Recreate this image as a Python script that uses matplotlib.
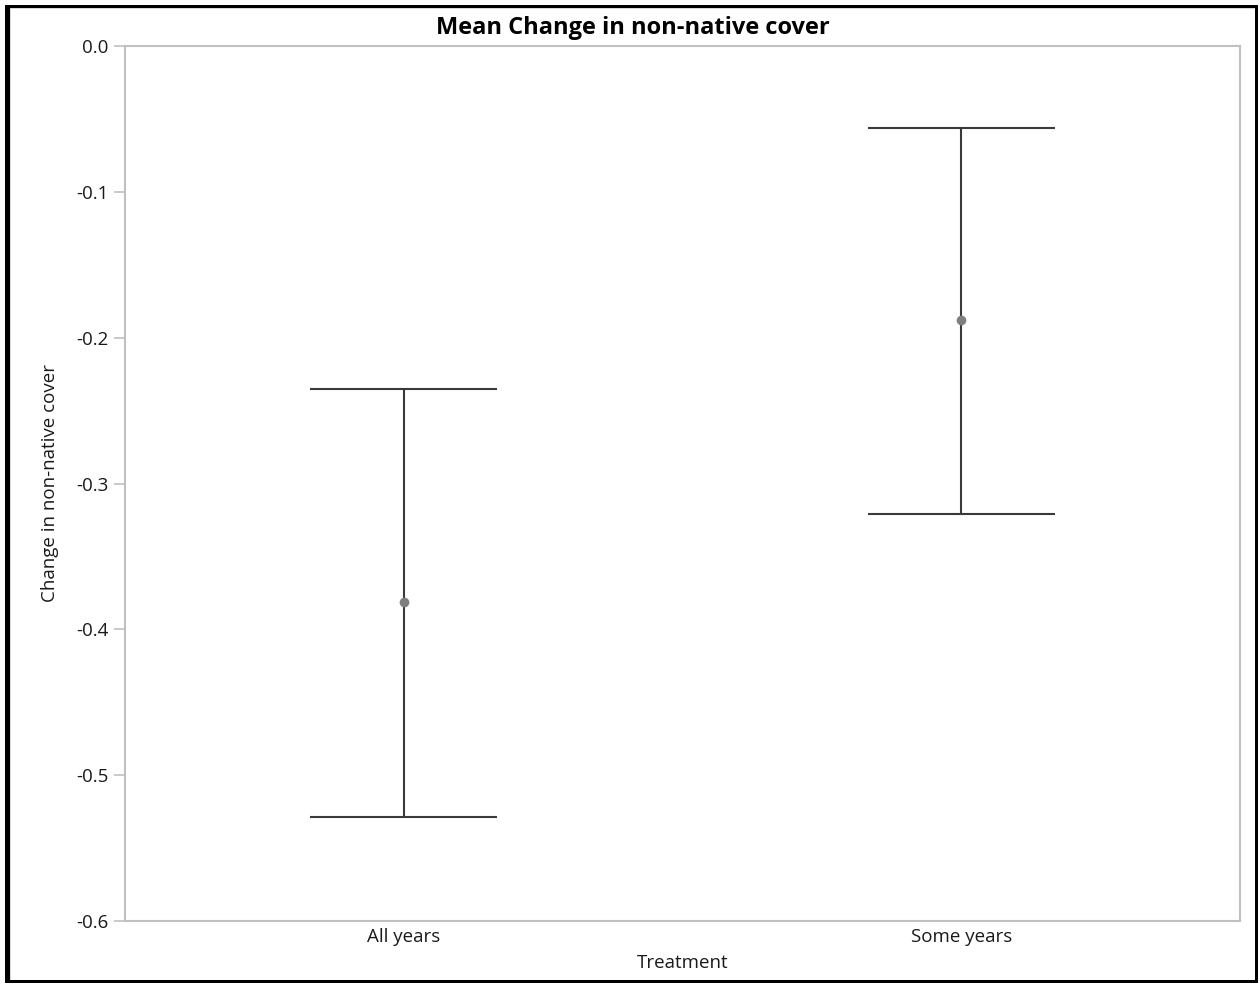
import matplotlib
matplotlib.use("Agg")
import matplotlib.pyplot as plt
from matplotlib.patches import Rectangle

# Treatment means with their interval bounds
categories = ["All years", "Some years"]
means = [-0.381, -0.188]
lower = [-0.529, -0.321]
upper = [-0.235, -0.056]
yticks = [0.0, -0.1, -0.2, -0.3, -0.4, -0.5, -0.6]

W, H = 1260, 985
fig = plt.figure(figsize=(W / 100, H / 100), dpi=100)
plt.rcParams["font.family"] = ["Open Sans", "DejaVu Sans"]

ax = fig.add_axes([125 / W, 1 - 921 / H, (1240 - 125) / W, (921 - 46) / H])

xs = list(range(len(categories)))
cap = 0.168
line_col = "#3a3a3a"
for x, m, lo, hi in zip(xs, means, lower, upper):
    ax.vlines(x, lo, hi, color=line_col, lw=1.5)
    ax.hlines([lo, hi], x - cap, x + cap, color=line_col, lw=1.5)
    ax.plot(x, m, "o", color="#7f7f7f", ms=7, mec="none", zorder=3)

ax.set_xlim(-0.5, 1.5)
ax.set_ylim(-0.6, 0.0)
ax.set_yticks(yticks)
ax.set_yticklabels([f"{v:.1f}" for v in yticks])
ax.set_xticks(xs)
ax.set_xticklabels(categories)

fs = 13.5
for s in ax.spines.values():
    s.set_color("#c0c0c0")
    s.set_linewidth(1.5)
ax.tick_params(axis="y", length=8, width=1.2, color="#c0c0c0", labelsize=fs,
               labelcolor="#1a1a1a", pad=4)
ax.tick_params(axis="x", length=0, labelsize=fs, labelcolor="#1a1a1a", pad=5)

ax.set_xlabel("Treatment", fontsize=fs, color="#1a1a1a", labelpad=6)
ax.set_ylabel("Change in non-native cover", fontsize=fs, color="#1a1a1a", labelpad=12)
fig.text(633 / W, 1 - 28 / H, "Mean Change in non-native cover", ha="center", va="center",
         fontsize=17, fontweight="bold", color="#000000")

# window frame around the figure
def box(x0, y0, x1, y1, color):
    fig.patches.append(Rectangle((x0 / W, 1 - y1 / H), (x1 - x0) / W, (y1 - y0) / H,
                                 transform=fig.transFigure, color=color, lw=0,
                                 zorder=10))

box(5, 5, 10, 983, "black")
box(5, 5, 1258, 8, "black")
box(1255, 5, 1258, 983, "black")
box(5, 980, 1258, 983, "black")
box(10, 8, 11, 980, "#d8d8d8")
box(10, 8, 1255, 9, "#d8d8d8")

fig.savefig("out.png", dpi=100)
